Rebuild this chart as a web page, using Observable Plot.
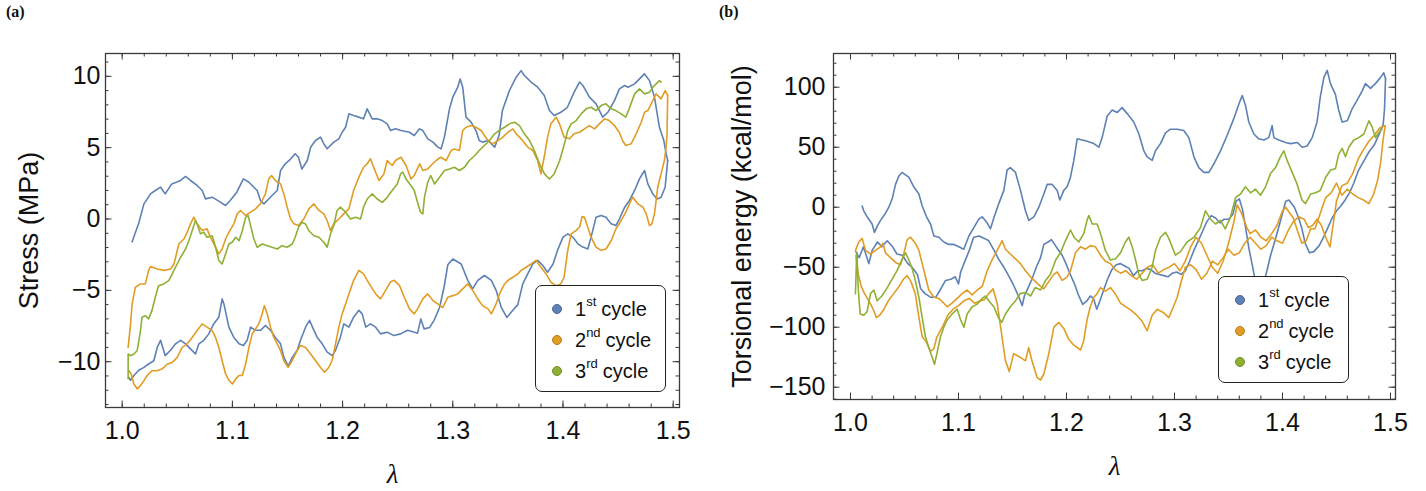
<!DOCTYPE html>
<html><head><meta charset="utf-8">
<script src="https://cdn.jsdelivr.net/npm/d3@7"></script>
<script src="https://cdn.jsdelivr.net/npm/@observablehq/plot@0.6"></script>
<style>
body{margin:0;background:#fff;}
#wrap{position:relative;width:1426px;height:491px;overflow:hidden;font-family:"Liberation Sans",Arial,sans-serif;}
.panel{position:absolute;top:0;width:713px;height:491px;}
.tag{position:absolute;top:3px;font:bold 16px "Liberation Serif","Times New Roman",serif;color:#111;}
.legend{position:absolute;background:#fff;border:1.3px solid #222;border-radius:7px;box-sizing:border-box;}
.legend .row{position:absolute;left:0;height:30px;display:flex;align-items:center;font-size:20px;color:#111;white-space:nowrap;}
.legend .dot{width:10px;height:10px;border-radius:50%;margin-left:16px;margin-right:13px;box-sizing:border-box;}
.legend .sup{font-size:13px;position:relative;top:-8px;margin-right:5px;}
</style>
</head><body>
<div id="wrap"></div>
<script>
// ---------- Panel (a): Stress (MPa) vs λ ----------
const stressC1Load = [[1.009,-1.6],[1.015,-0.3],[1.0197,1.06],[1.021,1.2],[1.0257,1.76],[1.030,2.0],[1.0348,2.23],[1.039,1.76],[1.045,2.46],[1.053,2.7],[1.0575,2.98],[1.062,2.7],[1.068,2.35],[1.0726,2.0],[1.0756,1.41],[1.0817,1.53],[1.089,1.18],[1.0938,0.95],[1.098,1.3],[1.104,1.88],[1.110,2.81],[1.115,2.58],[1.1195,2.23],[1.1225,2.0],[1.1255,1.3],[1.1286,1.06],[1.1316,1.3],[1.136,1.65],[1.1407,2.0],[1.1437,3.4],[1.148,3.87],[1.1528,4.2],[1.157,4.57],[1.160,4.33],[1.163,3.5],[1.168,4.1],[1.171,5.03],[1.1754,5.5],[1.180,5.74],[1.183,5.27],[1.186,4.92],[1.192,5.39],[1.1966,5.62],[1.1996,6.08],[1.2027,6.43],[1.2057,7.37],[1.210,7.25],[1.2148,7.14],[1.219,7.02],[1.2223,7.72],[1.2269,7.02],[1.2314,7.02],[1.236,6.9],[1.2405,6.67],[1.2435,6.2],[1.248,6.32],[1.253,6.2],[1.2607,6.08],[1.265,5.85],[1.2698,6.32],[1.2728,6.2],[1.2773,5.62],[1.282,5.39],[1.2864,5.04],[1.2894,4.92],[1.2924,5.74],[1.297,7.72],[1.300,8.54],[1.3045,9.24],[1.3067,9.82],[1.309,9.24],[1.312,7.14],[1.3166,6.79],[1.321,6.2],[1.324,5.5],[1.327,5.39],[1.332,5.5],[1.338,5.04],[1.342,5.85],[1.345,7.6],[1.3514,9.0],[1.3575,9.94],[1.362,10.4],[1.365,10.06],[1.371,9.6],[1.377,9.24],[1.383,8.66],[1.3877,7.6],[1.392,7.25],[1.398,7.48],[1.404,7.83],[1.410,8.88],[1.415,9.6],[1.418,9.36],[1.424,8.54],[1.430,8.07],[1.436,7.14],[1.4407,7.48],[1.4467,8.3],[1.4512,9.12],[1.456,9.36],[1.459,9.24],[1.465,9.47],[1.4694,9.82],[1.474,10.17],[1.4785,9.7],[1.483,8.54],[1.4875,6.43],[1.4915,5.5],[1.4936,4.57],[1.495,4.1]];
const stressC1Unload = [[1.495,4.1],[1.4927,2.23],[1.489,1.53],[1.4854,1.41],[1.4815,1.76],[1.477,2.46],[1.474,3.4],[1.4694,2.81],[1.465,2.0],[1.4603,1.3],[1.456,0.83],[1.4512,0.0],[1.448,-0.46],[1.4437,-0.34],[1.439,0.13],[1.4346,0.25],[1.430,0.13],[1.4255,-1.27],[1.4225,-2.1],[1.418,-1.97],[1.4135,-1.74],[1.409,-1.27],[1.4043,-1.04],[1.400,-1.27],[1.395,-2.2],[1.391,-3.15],[1.386,-3.73],[1.3817,-3.26],[1.377,-2.9],[1.3726,-3.15],[1.368,-3.85],[1.3635,-4.55],[1.359,-6.0],[1.3545,-6.4],[1.349,-6.9],[1.344,-6.2],[1.3393,-5.0],[1.335,-4.3],[1.3287,-3.96],[1.3227,-4.3],[1.318,-4.9],[1.3136,-4.3],[1.3076,-3.15],[1.300,-2.8],[1.2955,-3.2],[1.292,-4.8],[1.288,-6.2],[1.283,-7.1],[1.279,-7.6],[1.274,-7.7],[1.271,-7.0],[1.268,-8.0],[1.2637,-7.9],[1.259,-7.8],[1.2526,-8.05],[1.2465,-8.17],[1.2405,-7.93],[1.2344,-8.05],[1.230,-7.58],[1.2253,-7.35],[1.221,-7.58],[1.2178,-6.65],[1.2148,-6.4],[1.210,-6.88],[1.2057,-7.58],[1.2011,-7.35],[1.198,-8.28],[1.1936,-9.2],[1.1906,-9.57],[1.186,-9.33],[1.1815,-8.75],[1.177,-8.3],[1.174,-7.8],[1.170,-7.1],[1.1664,-7.58],[1.1618,-8.5],[1.1588,-9.2],[1.1543,-9.7],[1.1506,-10.3],[1.1467,-9.7],[1.1437,-8.75],[1.139,-8.3],[1.1346,-7.8],[1.130,-7.46],[1.1255,-7.8],[1.121,-7.8],[1.1165,-7.58],[1.1134,-8.5],[1.110,-8.87],[1.106,-8.75],[1.1013,-8.3],[1.0968,-7.58],[1.0923,-5.95],[1.0907,-5.6],[1.0877,-6.88],[1.083,-7.35],[1.0786,-8.05],[1.074,-8.5],[1.0696,-8.75],[1.0665,-9.46],[1.062,-9.1],[1.0575,-8.75],[1.053,-8.5],[1.0484,-8.75],[1.0439,-9.2],[1.039,-9.57],[1.0348,-8.5],[1.0318,-9.0],[1.0287,-9.93],[1.024,-10.16],[1.0197,-10.4],[1.015,-10.6],[1.0106,-10.97],[1.0076,-11.3],[1.006,-11.1]];
const stressC2Load = [[1.0054,-9.0],[1.0076,-7.35],[1.009,-5.95],[1.012,-4.78],[1.0166,-4.55],[1.021,-4.55],[1.024,-3.6],[1.0257,-3.33],[1.0318,-3.5],[1.0378,-3.6],[1.0439,-3.5],[1.047,-3.15],[1.0514,-1.75],[1.056,-1.4],[1.059,-0.93],[1.062,-0.34],[1.065,0.13],[1.068,-0.34],[1.0726,-0.8],[1.077,-0.69],[1.080,-1.27],[1.0847,-1.97],[1.0877,-2.44],[1.0907,-2.1],[1.0938,-1.4],[1.0968,-0.93],[1.1013,-0.34],[1.1044,0.36],[1.1074,0.6],[1.112,0.25],[1.1165,0.48],[1.121,0.71],[1.1255,1.06],[1.130,1.76],[1.133,2.81],[1.1355,3.05],[1.139,2.7],[1.1437,2.46],[1.1467,1.76],[1.1497,0.83],[1.1528,0.0],[1.1558,-0.34],[1.160,-0.46],[1.1648,0.0],[1.1694,0.71],[1.174,1.06],[1.1785,0.6],[1.183,0.36],[1.186,-0.12],[1.189,-0.8],[1.192,-0.34],[1.1966,0.0],[1.201,0.36],[1.2057,0.71],[1.210,2.0],[1.2148,2.93],[1.219,3.63],[1.2223,3.87],[1.2253,4.22],[1.230,3.28],[1.233,2.7],[1.2375,3.16],[1.2405,4.1],[1.245,3.75],[1.248,4.1],[1.253,4.33],[1.2576,3.75],[1.262,2.8],[1.265,3.05],[1.270,3.87],[1.2728,3.4],[1.2773,3.5],[1.280,3.75],[1.285,4.1],[1.289,4.33],[1.294,4.1],[1.2985,4.8],[1.3015,4.9],[1.306,4.8],[1.309,6.2],[1.312,6.43],[1.3166,6.55],[1.321,6.43],[1.3257,6.2],[1.3287,5.85],[1.332,5.5],[1.3363,5.27],[1.341,5.5],[1.3454,5.74],[1.350,6.08],[1.3545,6.32],[1.3575,5.97],[1.362,5.62],[1.368,5.04],[1.3726,4.8],[1.377,4.1],[1.380,3.16],[1.3832,4.45],[1.386,5.74],[1.389,6.67],[1.3938,7.14],[1.3968,6.67],[1.401,5.74],[1.406,5.62],[1.410,5.97],[1.415,6.08],[1.4195,6.32],[1.424,6.55],[1.4286,6.32],[1.433,6.67],[1.4376,7.02],[1.442,6.9],[1.4467,6.55],[1.451,6.08],[1.454,5.5],[1.457,5.15],[1.4618,5.27],[1.4664,5.97],[1.471,6.78],[1.474,7.48],[1.477,7.6],[1.480,8.07],[1.4845,8.77],[1.489,8.42],[1.4927,9.0],[1.495,8.66]];
const stressC2Unload = [[1.495,8.66],[1.4944,5.97],[1.4936,5.04],[1.492,4.1],[1.489,3.16],[1.486,2.23],[1.483,0.36],[1.4806,-0.34],[1.4785,-0.46],[1.4755,0.36],[1.4725,0.83],[1.468,1.06],[1.4633,1.53],[1.4603,1.06],[1.457,0.48],[1.4527,-0.12],[1.448,-0.7],[1.4437,-1.52],[1.439,-2.1],[1.4346,-2.2],[1.430,-1.97],[1.4255,-1.27],[1.4225,-0.58],[1.4195,0.13],[1.4174,0.18],[1.415,-0.58],[1.412,-0.8],[1.4074,-1.04],[1.4043,-2.2],[1.401,-4.08],[1.398,-4.55],[1.3938,-4.67],[1.389,-4.43],[1.3847,-3.85],[1.380,-3.38],[1.3756,-2.9],[1.371,-3.15],[1.3665,-3.38],[1.362,-3.6],[1.359,-3.85],[1.3545,-4.08],[1.350,-4.3],[1.347,-4.55],[1.3424,-5.25],[1.3393,-5.95],[1.335,-6.65],[1.332,-6.3],[1.327,-6.07],[1.3227,-5.6],[1.318,-5.0],[1.3136,-4.55],[1.309,-4.9],[1.3045,-5.25],[1.300,-5.37],[1.2955,-5.48],[1.291,-6.2],[1.2864,-5.95],[1.282,-5.72],[1.2773,-5.25],[1.2728,-5.6],[1.268,-6.3],[1.265,-6.65],[1.2607,-6.3],[1.256,-5.48],[1.2517,-4.67],[1.247,-4.3],[1.2435,-4.4],[1.239,-5.0],[1.2344,-5.6],[1.230,-5.25],[1.2253,-4.67],[1.2223,-4.3],[1.219,-3.85],[1.2148,-3.6],[1.210,-4.3],[1.2057,-5.25],[1.2027,-5.95],[1.1996,-6.65],[1.1966,-7.58],[1.1936,-8.75],[1.1906,-9.9],[1.1875,-10.4],[1.1836,-10.74],[1.180,-10.4],[1.1755,-9.93],[1.171,-9.46],[1.1664,-9.0],[1.1618,-8.87],[1.1588,-9.23],[1.1543,-9.93],[1.1506,-10.4],[1.1467,-9.93],[1.1437,-9.23],[1.1407,-8.75],[1.1376,-8.3],[1.1346,-7.58],[1.1316,-6.65],[1.129,-6.07],[1.127,-6.65],[1.124,-7.35],[1.121,-7.7],[1.118,-8.05],[1.115,-9.0],[1.112,-10.16],[1.109,-10.97],[1.106,-10.97],[1.103,-11.2],[1.100,-11.56],[1.0968,-11.3],[1.0938,-10.85],[1.0907,-9.93],[1.0877,-9.0],[1.0847,-8.3],[1.0817,-7.82],[1.077,-7.58],[1.0726,-7.35],[1.068,-7.82],[1.0635,-8.3],[1.059,-8.75],[1.0544,-9.0],[1.050,-9.7],[1.0454,-10.05],[1.041,-10.16],[1.0363,-10.5],[1.0318,-10.63],[1.0272,-10.63],[1.0227,-10.97],[1.0197,-11.33],[1.0166,-11.68],[1.0136,-11.9],[1.0106,-11.56],[1.008,-10.85],[1.006,-10.63]];
const stressC3Load = [[1.0054,-11.2],[1.0054,-9.46],[1.0076,-9.58],[1.0106,-9.46],[1.0136,-9.23],[1.0166,-7.82],[1.018,-6.88],[1.021,-6.78],[1.024,-7.0],[1.027,-6.42],[1.030,-5.48],[1.033,-4.67],[1.0378,-4.55],[1.0424,-4.3],[1.0454,-3.85],[1.0484,-3.38],[1.053,-2.68],[1.0575,-2.1],[1.0605,-1.52],[1.0635,-0.82],[1.0665,-0.12],[1.068,-0.35],[1.071,-1.04],[1.074,-0.93],[1.077,-1.28],[1.0817,-1.17],[1.0847,-1.98],[1.0877,-2.91],[1.0907,-3.15],[1.0938,-2.45],[1.0968,-1.75],[1.0998,-1.63],[1.103,-1.28],[1.106,-1.52],[1.109,-0.82],[1.112,0.12],[1.1143,0.25],[1.1165,-0.46],[1.1195,-1.4],[1.1225,-1.98],[1.127,-1.75],[1.1316,-1.87],[1.136,-1.98],[1.1407,-2.1],[1.145,-1.87],[1.1497,-1.98],[1.1543,-1.75],[1.157,-1.28],[1.160,-0.58],[1.163,-0.23],[1.1664,-0.35],[1.1694,-0.82],[1.174,-1.17],[1.1785,-1.28],[1.183,-1.63],[1.186,-1.98],[1.189,-1.05],[1.192,-0.46],[1.195,0.6],[1.198,0.83],[1.2027,0.48],[1.2072,0.0],[1.2118,0.12],[1.2163,0.0],[1.219,0.83],[1.2223,1.4],[1.2269,1.76],[1.2314,1.4],[1.236,1.17],[1.2405,1.52],[1.245,2.0],[1.2496,2.46],[1.2526,3.16],[1.2546,3.28],[1.2576,2.8],[1.262,2.35],[1.265,2.0],[1.268,1.17],[1.2707,0.48],[1.2728,0.36],[1.2743,1.53],[1.2773,2.58],[1.280,3.05],[1.2834,2.46],[1.288,2.93],[1.2924,3.4],[1.297,3.51],[1.3015,3.63],[1.306,3.4],[1.3106,3.63],[1.315,4.1],[1.320,4.45],[1.324,4.8],[1.3287,5.15],[1.3333,5.5],[1.338,5.97],[1.342,6.2],[1.347,6.43],[1.3514,6.67],[1.356,6.78],[1.3605,6.55],[1.365,5.97],[1.3696,5.5],[1.374,4.8],[1.3787,3.87],[1.3832,3.16],[1.3877,2.8],[1.392,3.16],[1.397,4.1],[1.4013,5.27],[1.4043,6.2],[1.4074,6.67],[1.412,6.9],[1.4165,7.37],[1.421,7.72],[1.4255,7.83],[1.430,7.6],[1.4346,7.95],[1.439,8.07],[1.4437,7.72],[1.448,7.6],[1.4527,7.37],[1.457,7.14],[1.460,7.72],[1.465,8.77],[1.4694,9.12],[1.474,8.77],[1.4785,8.88],[1.4815,9.24],[1.4845,9.47],[1.4875,9.7],[1.489,9.6]];

// ---------- Panel (b): Torsional energy (kcal/mol) vs λ ----------
const torsC1Load = [[1.0108,1],[1.0123,-3],[1.0154,-8],[1.020,-14],[1.0222,-21],[1.0247,-16],[1.0278,-11],[1.0324,-5],[1.0355,0],[1.0386,7],[1.0417,19],[1.0448,26],[1.0478,29],[1.0509,27],[1.054,25],[1.0586,17],[1.0633,11],[1.0664,1],[1.0704,-8],[1.0741,-14],[1.0772,-24],[1.0818,-25],[1.0864,-29],[1.091,-31],[1.0957,-31],[1.1003,-33],[1.1049,-35],[1.1096,-24],[1.1142,-17],[1.1188,-10],[1.1219,-8],[1.1265,-13],[1.1296,-18],[1.1327,-9],[1.1373,3],[1.142,14],[1.145,31],[1.148,33],[1.1528,29],[1.1574,14],[1.162,-3],[1.1651,-11],[1.1698,-8],[1.1744,0],[1.179,11],[1.1821,19],[1.1867,19],[1.1914,14],[1.1938,6],[1.1975,14],[1.2006,17],[1.2037,25],[1.2068,39],[1.2099,57],[1.2145,56],[1.2191,55],[1.2253,53],[1.23,50],[1.233,58],[1.2377,76],[1.2423,81],[1.247,79],[1.2515,83],[1.2562,78],[1.2623,71],[1.267,61],[1.2716,47],[1.2747,42],[1.2793,39],[1.2824,47],[1.287,53],[1.2917,62],[1.2963,65],[1.3025,65],[1.3086,64],[1.3133,58],[1.318,42],[1.3225,33],[1.3272,29],[1.3318,29],[1.3364,36],[1.3426,47],[1.3488,60],[1.355,74],[1.3596,86],[1.3627,93],[1.3657,85],[1.3688,71],[1.3735,61],[1.378,57],[1.3827,56],[1.3873,58],[1.3904,68],[1.392,58],[1.3966,56],[1.4028,54],[1.4074,53],[1.4136,54],[1.4182,50],[1.4228,51],[1.4275,58],[1.432,71],[1.435,92],[1.4383,108],[1.4414,114],[1.4444,103],[1.449,94],[1.452,81],[1.4552,71],[1.46,72],[1.4645,82],[1.469,89],[1.4738,97],[1.4768,103],[1.4815,99],[1.486,103],[1.4907,108],[1.4938,112],[1.4954,107]];
const torsC1Unload = [[1.4954,107],[1.4944,81],[1.4932,69],[1.49,62],[1.485,52],[1.48,46],[1.475,38],[1.47,30],[1.466,20],[1.462,12],[1.458,6],[1.454,1],[1.45,-3],[1.446,-9],[1.442,-17],[1.438,-25],[1.434,-32],[1.429,-37],[1.425,-38],[1.421,-30],[1.418,-18],[1.415,-9],[1.411,0],[1.406,6],[1.403,5],[1.400,-5],[1.397,-15],[1.393,-28],[1.389,-40],[1.385,-55],[1.381,-68],[1.378,-72],[1.375,-62],[1.372,-48],[1.369,-35],[1.366,-18],[1.363,-2],[1.360,7],[1.357,5],[1.354,-6],[1.350,-10],[1.346,-10],[1.342,-13],[1.338,-9],[1.334,-7],[1.330,-12],[1.326,-20],[1.322,-28],[1.318,-36],[1.314,-45],[1.310,-53],[1.306,-56],[1.302,-54],[1.298,-55],[1.294,-58],[1.290,-57],[1.286,-56],[1.282,-55],[1.278,-52],[1.274,-51],[1.270,-53],[1.266,-53],[1.262,-57],[1.258,-51],[1.254,-49],[1.250,-47],[1.246,-48],[1.242,-52],[1.238,-60],[1.234,-70],[1.231,-78],[1.228,-85],[1.225,-76],[1.222,-74],[1.219,-78],[1.215,-81],[1.211,-73],[1.207,-63],[1.203,-55],[1.200,-48],[1.196,-40],[1.192,-35],[1.189,-31],[1.186,-27],[1.183,-29],[1.179,-31],[1.176,-42],[1.172,-50],[1.168,-60],[1.164,-68],[1.161,-74],[1.159,-82],[1.156,-75],[1.151,-65],[1.147,-58],[1.142,-50],[1.137,-43],[1.133,-36],[1.128,-28],[1.124,-26],[1.119,-24],[1.114,-25],[1.110,-36],[1.105,-47],[1.102,-54],[1.100,-64],[1.097,-58],[1.093,-60],[1.088,-61],[1.083,-69],[1.079,-75],[1.074,-75],[1.069,-72],[1.065,-68],[1.062,-56],[1.057,-50],[1.053,-47],[1.048,-40],[1.043,-39],[1.039,-33],[1.034,-28],[1.029,-33],[1.025,-29],[1.020,-36],[1.017,-47],[1.012,-33],[1.008,-42],[1.005,-37]];
const torsC2Load = [[1.0046,-36],[1.0077,-29],[1.0108,-26],[1.0139,-36],[1.0185,-39],[1.023,-36],[1.0278,-33],[1.030,-30],[1.0324,-38],[1.037,-42],[1.0417,-46],[1.0463,-48],[1.049,-40],[1.0525,-27],[1.0556,-25],[1.06,-30],[1.0633,-36],[1.0664,-47],[1.0694,-58],[1.0725,-69],[1.0772,-75],[1.0818,-76],[1.0864,-80],[1.0895,-83],[1.094,-80],[1.0988,-76],[1.1034,-72],[1.108,-69],[1.1127,-73],[1.1173,-69],[1.122,-66],[1.1265,-53],[1.131,-44],[1.1358,-36],[1.1404,-28],[1.1435,-35],[1.148,-39],[1.1528,-43],[1.1574,-47],[1.162,-53],[1.1667,-58],[1.1713,-62],[1.176,-66],[1.179,-68],[1.182,-64],[1.1883,-56],[1.1914,-54],[1.196,-61],[1.2006,-58],[1.2037,-53],[1.2083,-38],[1.213,-33],[1.2176,-35],[1.222,-32],[1.2268,-33],[1.2315,-40],[1.236,-45],[1.2407,-47],[1.245,-52],[1.25,-55],[1.255,-53],[1.26,-57],[1.265,-60],[1.27,-55],[1.275,-50],[1.28,-48],[1.285,-55],[1.29,-52],[1.295,-50],[1.30,-47],[1.305,-53],[1.31,-45],[1.315,-33],[1.32,-25],[1.325,-30],[1.33,-40],[1.335,-50],[1.34,-55],[1.345,-45],[1.35,-30],[1.355,-12],[1.358,2],[1.362,-5],[1.367,-17],[1.37,-22],[1.375,-19],[1.38,-25],[1.385,-28],[1.39,-22],[1.395,-15],[1.40,-3],[1.403,0],[1.406,-4],[1.41,-9],[1.414,-20],[1.418,-30],[1.422,-28],[1.426,-18],[1.43,-18],[1.435,-5],[1.44,8],[1.445,12],[1.45,20],[1.455,10],[1.46,15],[1.465,11],[1.47,8],[1.475,6],[1.48,3],[1.484,10],[1.488,22],[1.491,38],[1.493,55],[1.495,68]];
const torsC2Unload = [[1.495,68],[1.49,66],[1.485,60],[1.48,55],[1.475,48],[1.47,40],[1.465,28],[1.46,20],[1.455,18],[1.45,5],[1.446,-20],[1.444,-33],[1.44,-25],[1.436,-15],[1.432,-10],[1.428,-15],[1.424,-17],[1.42,-10],[1.415,-8],[1.41,-12],[1.405,-20],[1.40,-30],[1.395,-28],[1.39,-25],[1.385,-32],[1.38,-35],[1.375,-30],[1.37,-25],[1.365,-30],[1.36,-38],[1.355,-40],[1.35,-35],[1.345,-42],[1.34,-48],[1.335,-45],[1.33,-55],[1.325,-60],[1.32,-52],[1.315,-48],[1.31,-50],[1.3056,-64],[1.3025,-75],[1.299,-83],[1.2947,-92],[1.29,-88],[1.284,-85],[1.2793,-90],[1.2747,-103],[1.27,-95],[1.265,-90],[1.26,-86],[1.255,-83],[1.25,-80],[1.245,-72],[1.2407,-67],[1.236,-70],[1.2315,-67],[1.2284,-72],[1.2253,-75],[1.222,-83],[1.219,-94],[1.216,-111],[1.213,-119],[1.2068,-115],[1.202,-110],[1.1975,-101],[1.193,-96],[1.1883,-100],[1.1836,-122],[1.179,-139],[1.176,-144],[1.1728,-142],[1.168,-128],[1.165,-117],[1.162,-128],[1.157,-125],[1.151,-122],[1.147,-137],[1.1435,-128],[1.139,-100],[1.1358,-80],[1.132,-68],[1.128,-72],[1.124,-77],[1.12,-78],[1.115,-80],[1.11,-76],[1.105,-78],[1.10,-82],[1.095,-85],[1.09,-90],[1.085,-100],[1.08,-108],[1.0772,-118],[1.074,-120],[1.07,-112],[1.0664,-108],[1.063,-90],[1.06,-72],[1.056,-62],[1.0525,-57],[1.049,-60],[1.045,-66],[1.04,-72],[1.035,-78],[1.031,-85],[1.027,-90],[1.024,-92],[1.021,-85],[1.017,-78],[1.013,-72],[1.01,-66],[1.007,-55],[1.005,-40]];
const torsC3Load = [[1.0046,-72],[1.0055,-45],[1.006,-38],[1.0068,-60],[1.0077,-75],[1.009,-89],[1.0123,-90],[1.0154,-87],[1.0185,-72],[1.0216,-69],[1.0247,-78],[1.029,-74],[1.034,-67],[1.0386,-60],[1.043,-53],[1.048,-43],[1.051,-38],[1.054,-44],[1.057,-51],[1.06,-61],[1.0633,-75],[1.0664,-92],[1.0694,-108],[1.0725,-117],[1.0756,-125],[1.0778,-131],[1.08,-122],[1.0833,-108],[1.0864,-100],[1.0895,-94],[1.094,-89],[1.0988,-85],[1.102,-94],[1.105,-100],[1.108,-89],[1.1127,-83],[1.117,-81],[1.122,-76],[1.125,-74],[1.128,-78],[1.1327,-83],[1.137,-92],[1.14,-96],[1.1435,-89],[1.148,-83],[1.1528,-78],[1.157,-72],[1.162,-71],[1.1667,-74],[1.171,-67],[1.176,-69],[1.1806,-61],[1.185,-56],[1.19,-44],[1.1944,-38],[1.199,-28],[1.2037,-19],[1.207,-25],[1.2114,-29],[1.216,-22],[1.219,-11],[1.2207,-7],[1.2238,-14],[1.2284,-14],[1.2315,-22],[1.236,-36],[1.2407,-44],[1.2454,-43],[1.25,-38],[1.2546,-29],[1.2577,-25],[1.2608,-33],[1.264,-44],[1.267,-56],[1.27,-61],[1.2747,-60],[1.2793,-50],[1.2824,-36],[1.287,-25],[1.2917,-21],[1.2947,-26],[1.2978,-33],[1.3009,-40],[1.3056,-37],[1.31,-31],[1.3117,-29],[1.318,-25],[1.324,-17],[1.3287,-3],[1.3333,-10],[1.338,-14],[1.3426,-11],[1.347,-18],[1.3519,-8],[1.3565,8],[1.3611,11],[1.3657,17],[1.3704,12],[1.375,15],[1.3796,10],[1.3843,17],[1.3889,28],[1.3935,33],[1.398,42],[1.4012,47],[1.4043,39],[1.409,29],[1.4136,19],[1.418,6],[1.4213,3],[1.426,11],[1.4306,12],[1.435,14],[1.44,25],[1.4444,31],[1.449,32],[1.452,44],[1.4552,49],[1.4583,42],[1.4614,50],[1.466,56],[1.4707,58],[1.4753,61],[1.48,72],[1.483,67],[1.486,58],[1.489,62],[1.492,65]];

// ---------- ticks & labels ----------
const xMajorTicks = [1.0, 1.1, 1.2, 1.3, 1.4, 1.5];
const xMinorTicks = d3.range(0, 26).map(i => +(1 + i * 0.02).toFixed(2));
const stressMajorTicks = [-10, -5, 0, 5, 10];
const stressMinorTicks = d3.range(-13, 12);
const torsMajorTicks = [-150, -100, -50, 0, 50, 100];
const torsMinorTicks = d3.range(-160, 121, 10);
const cycleNames = ["1", "2", "3"];
const cycleSups = ["st", "nd", "rd"];
const cycleColors = ["#5E81B5", "#E19C24", "#8FB032"];

const FRAME = "#3a3a3a";
const FONT = '"Liberation Sans", Arial, Helvetica, sans-serif';

function makePanel(o) {
  const FW = o.width - o.ml - o.mr, FH = o.height - o.mt - o.mb;
  const tickMarks = (vals, len) => [
    Plot.ruleX(vals, {x: d => d, insetTop: FH - len, stroke: FRAME, strokeWidth: 1}),
    Plot.ruleX(vals, {x: d => d, insetBottom: FH - len, stroke: FRAME, strokeWidth: 1})
  ];
  const tickMarksY = (vals, len) => [
    Plot.ruleY(vals, {y: d => d, insetRight: FW - len, stroke: FRAME, strokeWidth: 1}),
    Plot.ruleY(vals, {y: d => d, insetLeft: FW - len, stroke: FRAME, strokeWidth: 1})
  ];
  return Plot.plot({
    width: o.width, height: o.height,
    marginLeft: o.ml, marginRight: o.mr, marginTop: o.mt, marginBottom: o.mb,
    style: {fontFamily: FONT, fontSize: "25px", color: "#111", background: "transparent", overflow: "visible"},
    x: {domain: o.xDomain},
    y: {domain: o.yDomain},
    marks: [
      ...o.series.map(s => Plot.line(s.data, {x: d => d[0], y: d => d[1], stroke: s.color, strokeWidth: 1.6, strokeLinejoin: "round"})),
      ...tickMarks(xMinorTicks, 3.5),
      ...tickMarks(xMajorTicks, 6.5),
      ...tickMarksY(o.yMinor, 3.5),
      ...tickMarksY(o.yMajor, 6.5),
      Plot.frame({stroke: FRAME, strokeWidth: 1.3}),
      Plot.axisX({ticks: xMajorTicks, tickSize: 0, tickPadding: 14, tickFormat: d3.format(".1f"), label: null, fontSize: 25}),
      Plot.axisY({ticks: o.yMajor, tickSize: 0, tickPadding: o.yPad, tickFormat: d3.format("d"), label: null, fontSize: 25}),
      Plot.text([o.yLabel], {text: d => d, frameAnchor: "left", textAnchor: "middle", lineAnchor: "middle", dx: o.yLabelDx, rotate: -90, fontSize: 27, fill: "#111"}),
      Plot.text(["λ"], {text: d => d, frameAnchor: "bottom", textAnchor: "middle", lineAnchor: "middle", dy: 67, fontSize: 27, fontStyle: "italic", fontFamily: '"Liberation Serif", "Times New Roman", serif', fill: "#111"})
    ]
  });
}

function makeLegend(left, top) {
  const lg = document.createElement("div");
  lg.className = "legend";
  Object.assign(lg.style, {left: left + "px", top: top + "px", width: "131px", height: "107px"});
  cycleNames.forEach((n, i) => {
    const row = document.createElement("div");
    row.className = "row";
    row.style.top = (8 + i * 31) + "px";
    row.innerHTML = `<span class="dot" style="background:${cycleColors[i]};border:1px solid ${d3.color(cycleColors[i]).darker(0.6)}"></span><span>${n}</span><span class="sup">${cycleSups[i]}</span><span>cycle</span>`;
    lg.appendChild(row);
  });
  return lg;
}

const wrap = document.getElementById("wrap");

function addPanel(left, tag, tagLeft, plotOpts, legendPos) {
  const p = document.createElement("div");
  p.className = "panel";
  p.style.left = left + "px";
  p.appendChild(makePanel(plotOpts));
  const t = document.createElement("div");
  t.className = "tag";
  t.style.left = tagLeft + "px";
  t.textContent = tag;
  p.appendChild(t);
  p.appendChild(makeLegend(legendPos[0], legendPos[1]));
  wrap.appendChild(p);
}

addPanel(0, "(a)", 6, {
  width: 713, height: 491, ml: 105, mr: 34, mt: 53, mb: 84,
  xDomain: [0.98485, 1.50572], yDomain: [-13.21, 11.60],
  yMajor: stressMajorTicks, yMinor: stressMinorTicks, yPad: 5,
  yLabel: "Stress (MPa)", yLabelDx: -76,
  series: [
    {data: stressC1Load, color: cycleColors[0]},
    {data: stressC1Unload, color: cycleColors[0]},
    {data: stressC2Load, color: cycleColors[1]},
    {data: stressC2Unload, color: cycleColors[1]},
    {data: stressC3Load, color: cycleColors[2]}
  ]
}, [535, 285]);

addPanel(713, "(b)", 6, {
  width: 713, height: 491, ml: 120, mr: 31, mt: 53, mb: 92,
  xDomain: [0.98426, 1.50463], yDomain: [-160.25, 128.1],
  yMajor: torsMajorTicks, yMinor: torsMinorTicks, yPad: 8,
  yLabel: "Torsional energy (kcal/mol)", yLabelDx: -91,
  series: [
    {data: torsC1Load, color: cycleColors[0]},
    {data: torsC1Unload, color: cycleColors[0]},
    {data: torsC2Load, color: cycleColors[1]},
    {data: torsC2Unload, color: cycleColors[1]},
    {data: torsC3Load, color: cycleColors[2]}
  ]
}, [505, 276]);
</script>
</body></html>
